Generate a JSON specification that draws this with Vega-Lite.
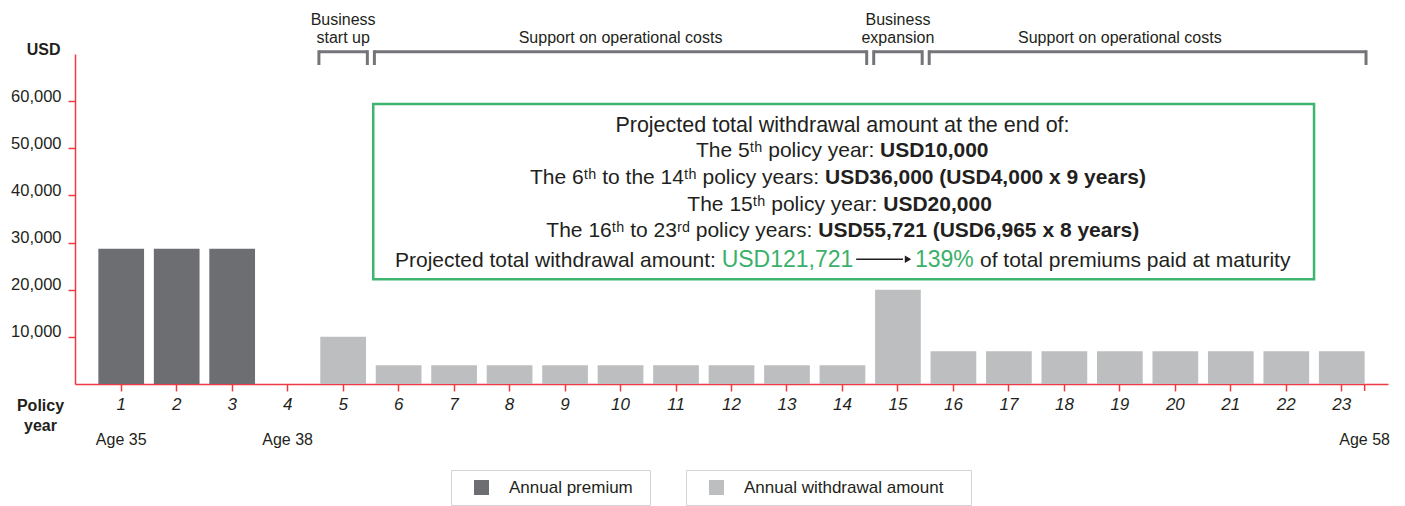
{
  "$schema": "https://vega.github.io/schema/vega-lite/v6.json",
  "width": 1313,
  "height": 330,
  "autosize": {"type": "none"},
  "padding": {"left": 75, "top": 54, "right": 17, "bottom": 122},
  "background": "white",
  "config": {
    "view": {"stroke": null},
    "font": "Liberation Sans, Arial, sans-serif",
    "axis": {"grid": false}
  },
  "datasets": {
    "premium": [
      {"year": 1, "series": "Annual premium", "amount": 28700},
      {"year": 2, "series": "Annual premium", "amount": 28700},
      {"year": 3, "series": "Annual premium", "amount": 28700}
    ],
    "withdrawal": [
      {"year": 5, "series": "Annual withdrawal amount", "amount": 10000},
      {"year": 6, "series": "Annual withdrawal amount", "amount": 4000},
      {"year": 7, "series": "Annual withdrawal amount", "amount": 4000},
      {"year": 8, "series": "Annual withdrawal amount", "amount": 4000},
      {"year": 9, "series": "Annual withdrawal amount", "amount": 4000},
      {"year": 10, "series": "Annual withdrawal amount", "amount": 4000},
      {"year": 11, "series": "Annual withdrawal amount", "amount": 4000},
      {"year": 12, "series": "Annual withdrawal amount", "amount": 4000},
      {"year": 13, "series": "Annual withdrawal amount", "amount": 4000},
      {"year": 14, "series": "Annual withdrawal amount", "amount": 4000},
      {"year": 15, "series": "Annual withdrawal amount", "amount": 20000},
      {"year": 16, "series": "Annual withdrawal amount", "amount": 6965},
      {"year": 17, "series": "Annual withdrawal amount", "amount": 6965},
      {"year": 18, "series": "Annual withdrawal amount", "amount": 6965},
      {"year": 19, "series": "Annual withdrawal amount", "amount": 6965},
      {"year": 20, "series": "Annual withdrawal amount", "amount": 6965},
      {"year": 21, "series": "Annual withdrawal amount", "amount": 6965},
      {"year": 22, "series": "Annual withdrawal amount", "amount": 6965},
      {"year": 23, "series": "Annual withdrawal amount", "amount": 6965}
    ],
    "brackets": [
      {"label": "Business\nstart up", "from": 5, "to": 5, "at": 5},
      {"label": "Support on operational costs", "from": 6, "to": 14, "at": 10},
      {"label": "Business\nexpansion", "from": 15, "to": 15, "at": 15},
      {"label": "Support on operational costs", "from": 16, "to": 23, "at": 19}
    ],
    "ages": [
      {"label": "Age 35", "year": 1},
      {"label": "Age 38", "year": 4},
      {"label": "Age 58", "year": 23}
    ],
    "notes": [
      {"id": "l1", "text": "Projected total withdrawal amount at the end of:"},
      {"id": "l2a", "text": "The 5ᵗʰ policy year:"},
      {"id": "l2b", "text": "USD10,000"},
      {"id": "l3a", "text": "The 6ᵗʰ to the 14ᵗʰ policy years:"},
      {"id": "l3b", "text": "USD36,000 (USD4,000 x 9 years)"},
      {"id": "l4a", "text": "The 15ᵗʰ policy year:"},
      {"id": "l4b", "text": "USD20,000"},
      {"id": "l5a", "text": "The 16ᵗʰ to 23ʳᵈ policy years:"},
      {"id": "l5b", "text": "USD55,721 (USD6,965 x 8 years)"},
      {"id": "l6a", "text": "Projected total withdrawal amount:"},
      {"id": "l6b", "text": "USD121,721"},
      {"id": "l6c", "text": "139%"},
      {"id": "l6d", "text": "of total premiums paid at maturity"}
    ]
  },
  "layer": [
    {
      "data": {"name": "premium"},
      "mark": {"type": "bar"},
      "encoding": {
        "x": {
          "field": "year",
          "type": "ordinal",
          "scale": {
            "domain": [1, 2, 3, 4, 5, 6, 7, 8, 9, 10, 11, 12, 13, 14, 15, 16, 17, 18, 19, 20, 21, 22, 23],
            "paddingInner": 0.176,
            "paddingOuter": 0.421
          },
          "axis": {
            "title": ["Policy", "year"],
            "titleFontSize": 16,
            "titleFontWeight": "bold",
            "titleColor": "#231f20",
            "titleAngle": 0,
            "titleX": -35,
            "titleY": 26,
            "titleAlign": "center",
            "titleBaseline": "alphabetic",
            "titleLineHeight": 20,
            "labelAngle": 0,
            "labelFontSize": 17,
            "labelFontStyle": "italic",
            "labelColor": "#231f20",
            "labelPadding": 5,
            "domainColor": "#ee3a43",
            "domainWidth": 1.5,
            "tickColor": "#ee3a43",
            "tickSize": 7,
            "tickWidth": 1.5
          }
        },
        "y": {
          "field": "amount",
          "type": "quantitative",
          "scale": {"domain": [0, 70000], "nice": false},
          "axis": {
            "title": "USD",
            "titleAngle": 0,
            "titleFontSize": 16,
            "titleFontWeight": "bold",
            "titleColor": "#231f20",
            "titleX": -15,
            "titleY": 0,
            "titleAlign": "right",
            "titleBaseline": "alphabetic",
            "values": [10000, 20000, 30000, 40000, 50000, 60000],
            "format": ",.0f",
            "labelFontSize": 16.5,
            "labelColor": "#231f20",
            "labelBaseline": "alphabetic",
            "labelPadding": 7,
            "tickSize": 7,
            "tickWidth": 1.5,
            "tickColor": "#ee3a43",
            "domainColor": "#ee3a43",
            "domainWidth": 1.5
          }
        },
        "fill": {
          "field": "series",
          "type": "nominal",
          "scale": {"range": ["#6d6e71"]},
          "legend": {
            "orient": "none",
            "legendX": 376,
            "legendY": 416,
            "title": " ",
            "titleOrient": "right",
            "titlePadding": 8,
            "padding": 9,
            "strokeColor": "#d4d4d4",
            "symbolType": "square",
            "symbolSize": 225,
            "symbolOffset": 13,
            "symbolStrokeWidth": 0,
            "labelOffset": 19,
            "labelFontSize": 17,
            "labelLimit": 400,
            "labelColor": "#231f20"
          }
        }
      }
    },
    {
      "data": {"name": "withdrawal"},
      "mark": {"type": "bar"},
      "encoding": {
        "x": {"field": "year", "type": "ordinal"},
        "y": {"field": "amount", "type": "quantitative"},
        "color": {
          "field": "series",
          "type": "nominal",
          "scale": {"range": ["#bcbec0"]},
          "legend": {
            "orient": "none",
            "legendX": 611,
            "legendY": 416,
            "title": " ",
            "titleOrient": "right",
            "titlePadding": 19,
            "padding": 9,
            "strokeColor": "#d4d4d4",
            "symbolType": "square",
            "symbolSize": 225,
            "symbolOffset": 13,
            "symbolStrokeWidth": 0,
            "labelOffset": 19,
            "labelFontSize": 17,
            "labelLimit": 400,
            "labelColor": "#231f20"
          }
        }
      }
    },
    {
      "data": {"values": [{}]},
      "mark": {"type": "rule", "color": "#ee3a43", "strokeWidth": 1.5},
      "encoding": {
        "x": {"datum": 23, "type": "ordinal", "bandPosition": 1},
        "y": {"datum": 0, "type": "quantitative"},
        "y2": {"datum": -1485}
      }
    },
    {
      "data": {"name": "brackets"},
      "mark": {"type": "rule", "color": "#747578", "strokeWidth": 3},
      "encoding": {
        "x": {"field": "from", "type": "ordinal", "bandPosition": -0.03},
        "x2": {"field": "to", "bandPosition": 1.03},
        "y": {"datum": 70488, "type": "quantitative"}
      }
    },
    {
      "data": {"name": "brackets"},
      "mark": {"type": "rule", "color": "#747578", "strokeWidth": 3},
      "encoding": {
        "x": {"field": "from", "type": "ordinal", "bandPosition": -0.03},
        "y": {"datum": 70800, "type": "quantitative"},
        "y2": {"datum": 67667}
      }
    },
    {
      "data": {"name": "brackets"},
      "mark": {"type": "rule", "color": "#747578", "strokeWidth": 3},
      "encoding": {
        "x": {"field": "to", "type": "ordinal", "bandPosition": 1.03},
        "y": {"datum": 70800, "type": "quantitative"},
        "y2": {"datum": 67667}
      }
    },
    {
      "data": {"name": "brackets"},
      "transform": [{"filter": "datum.from === datum.to"}],
      "mark": {"type": "text", "align": "center", "baseline": "alphabetic", "fontSize": 16, "lineBreak": "\n", "lineHeight": 18, "color": "#231f20"},
      "encoding": {
        "x": {"field": "at", "type": "ordinal", "bandPosition": 0.5},
        "y": {"datum": 76150, "type": "quantitative"},
        "text": {"field": "label"}
      }
    },
    {
      "data": {"name": "brackets"},
      "transform": [{"filter": "datum.from !== datum.to"}],
      "mark": {"type": "text", "align": "center", "baseline": "alphabetic", "fontSize": 16, "color": "#231f20"},
      "encoding": {
        "x": {"field": "at", "type": "ordinal", "bandPosition": 0.5},
        "y": {"datum": 72270, "type": "quantitative"},
        "text": {"field": "label"}
      }
    },
    {
      "data": {"name": "ages"},
      "transform": [{"filter": "datum.year < 23"}],
      "mark": {"type": "text", "align": "center", "baseline": "alphabetic", "fontSize": 16, "color": "#231f20"},
      "encoding": {
        "x": {"field": "year", "type": "ordinal", "bandPosition": 0.5},
        "y": {"datum": -12940, "type": "quantitative"},
        "text": {"field": "label"}
      }
    },
    {
      "data": {"name": "ages"},
      "transform": [{"filter": "datum.year === 23"}],
      "mark": {"type": "text", "align": "center", "baseline": "alphabetic", "fontSize": 16, "color": "#231f20"},
      "encoding": {
        "x": {"field": "year", "type": "ordinal", "bandPosition": 1},
        "y": {"datum": -12940, "type": "quantitative"},
        "text": {"field": "label"}
      }
    },
    {
      "data": {"values": [{}]},
      "mark": {"type": "rect", "fill": "white", "stroke": "#3db56e", "strokeWidth": 2.5},
      "encoding": {
        "x": {"datum": 6, "type": "ordinal", "bandPosition": -0.055},
        "x2": {"datum": 23, "bandPosition": -0.107},
        "y": {"datum": 59394, "type": "quantitative"},
        "y2": {"datum": 22209}
      }
    },
    {
      "data": {"name": "notes"},
      "transform": [{"filter": "datum.id === 'l1'"}],
      "mark": {"type": "text", "align": "center", "baseline": "alphabetic", "fontSize": 21.5, "color": "#231f20"},
      "encoding": {
        "x": {"datum": 14, "type": "ordinal", "bandPosition": 0.5},
        "y": {"datum": 53518, "type": "quantitative"},
        "text": {"field": "text"}
      }
    },
    {
      "data": {"name": "notes"},
      "transform": [{"filter": "datum.id === 'l2a'"}],
      "mark": {"type": "text", "align": "right", "baseline": "alphabetic", "fontSize": 21, "dx": 32, "color": "#231f20"},
      "encoding": {
        "x": {"datum": 14, "type": "ordinal", "bandPosition": 0.5},
        "y": {"datum": 48088, "type": "quantitative"},
        "text": {"field": "text"}
      }
    },
    {
      "data": {"name": "notes"},
      "transform": [{"filter": "datum.id === 'l2b'"}],
      "mark": {"type": "text", "align": "left", "baseline": "alphabetic", "fontSize": 21, "fontWeight": "bold", "dx": 37.5, "color": "#231f20"},
      "encoding": {
        "x": {"datum": 14, "type": "ordinal", "bandPosition": 0.5},
        "y": {"datum": 48088, "type": "quantitative"},
        "text": {"field": "text"}
      }
    },
    {
      "data": {"name": "notes"},
      "transform": [{"filter": "datum.id === 'l3a'"}],
      "mark": {"type": "text", "align": "right", "baseline": "alphabetic", "fontSize": 21, "dx": -23.3, "color": "#231f20"},
      "encoding": {
        "x": {"datum": 14, "type": "ordinal", "bandPosition": 0.5},
        "y": {"datum": 42424, "type": "quantitative"},
        "text": {"field": "text"}
      }
    },
    {
      "data": {"name": "notes"},
      "transform": [{"filter": "datum.id === 'l3b'"}],
      "mark": {"type": "text", "align": "left", "baseline": "alphabetic", "fontSize": 21, "fontWeight": "bold", "dx": -17.5, "color": "#231f20"},
      "encoding": {
        "x": {"datum": 14, "type": "ordinal", "bandPosition": 0.5},
        "y": {"datum": 42424, "type": "quantitative"},
        "text": {"field": "text"}
      }
    },
    {
      "data": {"name": "notes"},
      "transform": [{"filter": "datum.id === 'l4a'"}],
      "mark": {"type": "text", "align": "right", "baseline": "alphabetic", "fontSize": 21, "dx": 35, "color": "#231f20"},
      "encoding": {
        "x": {"datum": 14, "type": "ordinal", "bandPosition": 0.5},
        "y": {"datum": 36697, "type": "quantitative"},
        "text": {"field": "text"}
      }
    },
    {
      "data": {"name": "notes"},
      "transform": [{"filter": "datum.id === 'l4b'"}],
      "mark": {"type": "text", "align": "left", "baseline": "alphabetic", "fontSize": 21, "fontWeight": "bold", "dx": 40.8, "color": "#231f20"},
      "encoding": {
        "x": {"datum": 14, "type": "ordinal", "bandPosition": 0.5},
        "y": {"datum": 36697, "type": "quantitative"},
        "text": {"field": "text"}
      }
    },
    {
      "data": {"name": "notes"},
      "transform": [{"filter": "datum.id === 'l5a'"}],
      "mark": {"type": "text", "align": "right", "baseline": "alphabetic", "fontSize": 21, "dx": -30, "color": "#231f20"},
      "encoding": {
        "x": {"datum": 14, "type": "ordinal", "bandPosition": 0.5},
        "y": {"datum": 31245, "type": "quantitative"},
        "text": {"field": "text"}
      }
    },
    {
      "data": {"name": "notes"},
      "transform": [{"filter": "datum.id === 'l5b'"}],
      "mark": {"type": "text", "align": "left", "baseline": "alphabetic", "fontSize": 21, "fontWeight": "bold", "dx": -24.2, "color": "#231f20"},
      "encoding": {
        "x": {"datum": 14, "type": "ordinal", "bandPosition": 0.5},
        "y": {"datum": 31245, "type": "quantitative"},
        "text": {"field": "text"}
      }
    },
    {
      "data": {"name": "notes"},
      "transform": [{"filter": "datum.id === 'l6a'"}],
      "mark": {"type": "text", "align": "right", "baseline": "alphabetic", "fontSize": 21, "dx": -126.5, "color": "#231f20"},
      "encoding": {
        "x": {"datum": 14, "type": "ordinal", "bandPosition": 0.5},
        "y": {"datum": 24882, "type": "quantitative"},
        "text": {"field": "text"}
      }
    },
    {
      "data": {"name": "notes"},
      "transform": [{"filter": "datum.id === 'l6b'"}],
      "mark": {"type": "text", "align": "left", "baseline": "alphabetic", "fontSize": 23, "dx": -120.8, "color": "#3bb06a"},
      "encoding": {
        "x": {"datum": 14, "type": "ordinal", "bandPosition": 0.5},
        "y": {"datum": 24882, "type": "quantitative"},
        "text": {"field": "text"}
      }
    },
    {
      "data": {"name": "notes"},
      "transform": [{"filter": "datum.id === 'l6c'"}],
      "mark": {"type": "text", "align": "left", "baseline": "alphabetic", "fontSize": 23, "dx": 72.5, "color": "#3bb06a"},
      "encoding": {
        "x": {"datum": 14, "type": "ordinal", "bandPosition": 0.5},
        "y": {"datum": 24882, "type": "quantitative"},
        "text": {"field": "text"}
      }
    },
    {
      "data": {"name": "notes"},
      "transform": [{"filter": "datum.id === 'l6d'"}],
      "mark": {"type": "text", "align": "left", "baseline": "alphabetic", "fontSize": 21, "dx": 137.5, "color": "#231f20"},
      "encoding": {
        "x": {"datum": 14, "type": "ordinal", "bandPosition": 0.5},
        "y": {"datum": 24882, "type": "quantitative"},
        "text": {"field": "text"}
      }
    },
    {
      "data": {"values": [{}]},
      "mark": {"type": "rule", "color": "#231f20", "strokeWidth": 1.6},
      "encoding": {
        "x": {"datum": 14, "type": "ordinal", "bandPosition": 0.8},
        "x2": {"datum": 15, "bandPosition": 0.61},
        "y": {"datum": 26450, "type": "quantitative"}
      }
    },
    {
      "data": {"values": [{}]},
      "mark": {"type": "point", "shape": "triangle-right", "size": 55, "filled": true, "color": "#231f20", "opacity": 1},
      "encoding": {
        "x": {"datum": 15, "type": "ordinal", "bandPosition": 0.72},
        "y": {"datum": 26450, "type": "quantitative"}
      }
    }
  ]
}
